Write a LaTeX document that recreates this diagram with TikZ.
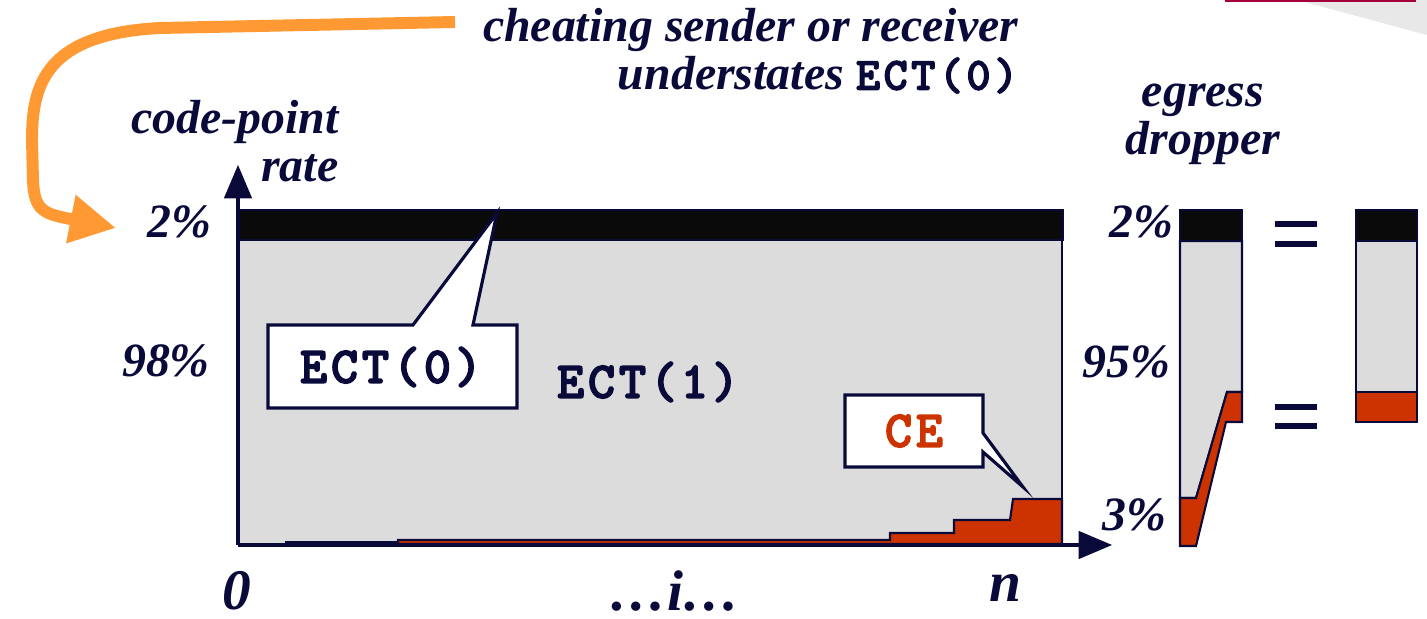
\documentclass[tikz,border=0pt]{standalone}
\usepackage{fontspec}
\setmainfont{Liberation Serif}
\setmonofont[FakeBold=2.5, LetterSpace=7]{lmmonolt10-bold.otf}
\usepackage{tikz}
\usetikzlibrary{positioning}
\usetikzlibrary{arrows,arrows.meta}
\definecolor{Navy}{RGB}{10,10,58}
\definecolor{Rust}{RGB}{204,51,0}
\definecolor{Tangerine}{RGB}{255,153,51}
\definecolor{Ash}{RGB}{220,220,220}
\definecolor{Crimson}{RGB}{165,0,60}
\tikzset{
every picture/.style={x=0.01cm, y=-0.01cm},
bigtext/.style={text=Navy, inner sep=0pt, font=\fontsize{13.6}{13.6}\selectfont\bfseries\itshape},
ticktext/.style={text=Navy, inner sep=0pt, font=\fontsize{16.3}{18}\selectfont\bfseries\itshape},
codetext/.style={text=Navy, inner sep=0pt, font=\fontsize{14.8}{16}\selectfont\ttfamily},
axisline/.style={draw=Navy, line width=1.2pt},
outline/.style={draw=Navy, line width=0.6pt},
calloutbox/.style={fill=white, draw=Navy, line width=0.9pt, line join=miter},
eqbar/.style={draw=Navy, line width=1.7pt},
swing/.style={draw=Tangerine, line width=3.4pt, -{Triangle[length=0.46cm, width=0.46cm]}}
}
\newcommand{\ectcode}[1]{{\fontsize{13.2}{13}\selectfont\ttfamily\upshape ECT(#1)}}

\begin{document}
\begin{tikzpicture}
\useasboundingbox (0,0) rectangle (1427,619);
%Slide corner
\fill[gray!18] (1297,0) -- (1427,0) -- (1427,35) -- cycle;
\fill[Crimson] (1225,0) rectangle (1416,2.5);

%Main chart
\fill[Ash] (238,240) rectangle (1062,545);
\fill[black!96, outline] (238,210) rectangle (1063,240);
\draw[outline] (1062,240) -- (1062,545);
\fill[Navy] (285,545) rectangle (398,541.5);
\fill[Rust, outline] (398,544) -- (398,540) -- (890,540) -- (890,533) -- (954,533)
  -- (954,520) -- (1010,520) -- (1013,499) -- (1062,499) -- (1062,544) -- cycle;

%Axes
\coordinate (origin) at (238,545);
\coordinate (ytip) at (238,165);
\coordinate (xtip) at (1112,545);
\draw[axisline, -triangle 45] (origin) -- (ytip);
\draw[axisline, -triangle 45] (origin) -- (xtip);

%Callouts
\filldraw[calloutbox] (268,325) -- (413,325) -- (497,213) -- (473,325) -- (517,325)
  -- (517,408) -- (268,408) -- cycle;
\filldraw[calloutbox] (845,395) -- (983,395) -- (983,433) -- (1023,487) -- (983,452)
  -- (983,467) -- (845,467) -- cycle;

%Egress dropper bar
\fill[black!96, outline] (1180,210) rectangle (1242,241);
\filldraw[fill=Ash, outline] (1180,241) -- (1242,241) -- (1242,392) -- (1227,392)
  -- (1196,498) -- (1180,498) -- cycle;
\filldraw[fill=Rust, outline] (1227,392) -- (1242,392) -- (1242,422) -- (1226,422)
  -- (1196,546) -- (1180,546) -- (1180,498) -- (1196,498) -- cycle;

%Result bar
\fill[black!96, outline] (1356,210) rectangle (1417,241);
\filldraw[fill=Ash, outline] (1356,241) rectangle (1417,392);
\filldraw[fill=Rust, outline] (1356,392) rectangle (1417,422);

%Equals signs
\draw[eqbar] (1275,224) -- (1317,224);
\draw[eqbar] (1275,244) -- (1317,244);
\draw[eqbar] (1275,407) -- (1317,407);
\draw[eqbar] (1275,426) -- (1317,426);

%Nodes
\node [bigtext, align=right, anchor=north east] (cheat) at (1019,8)
  {cheating sender or receiver\\understates \ectcode{0}};
\node [bigtext, align=right, anchor=south east] (cprate) at (339,183) {code-point\\rate};
\node [bigtext, align=center, anchor=south] (egress) at (1203,165) {egress\\dropper};
\node [bigtext] (twoleft) at (179,222) {2\%};
\node [bigtext] (ninetyeight) at (166,361) {98\%};
\node [bigtext] (tworight) at (1141,222) {2\%};
\node [bigtext] (ninetyfive) at (1126,362) {95\%};
\node [bigtext] (threeright) at (1134,515) {3\%};
\node [ticktext] (zero) at (237,591) {0};
\node [ticktext] (mid) at (675,591) {…i…};
\node [ticktext] (enn) at (1005,588) {n};
\node [codetext] (ectzero) at (391,367) {ECT(0)};
\node [codetext] (ectone) at (648,382) {ECT(1)};
\node [codetext, text=Rust] (cemark) at (914,431) {CE};

%Lines
\coordinate (swingstart) at (455,22);
\coordinate (swingend) at (116,228);
\draw[swing] (swingstart) -- (160,28) .. controls (45,34) and (32,85) .. (32,140)
  -- (33,180) .. controls (34,212) and (45,214) .. (swingend);
\end{tikzpicture}
\end{document}
